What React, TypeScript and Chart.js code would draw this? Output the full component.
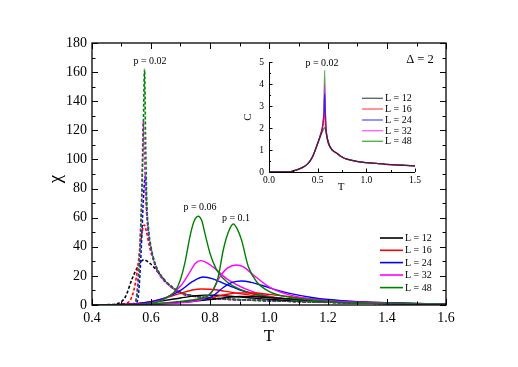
import React, { useEffect, useRef } from "react";
import { Chart, registerables } from "chart.js";

Chart.register(...registerables);

type P = [number, number][];

const L_LABELS = ["L = 12", "L = 16", "L = 24", "L = 32", "L = 48"];
const COLORS = ["#000000", "#ff0000", "#0000ff", "#ff00ff", "#008000"];
const INSET_COLORS = [
  "rgba(40,40,40,0.7)",
  "rgba(255,0,0,0.6)",
  "rgba(0,0,255,0.6)",
  "rgba(255,0,255,0.6)",
  "rgba(0,128,0,0.65)",
];

const X_TICKS = [0.4, 0.6, 0.8, 1.0, 1.2, 1.4, 1.6];
const Y_TICKS = [0, 20, 40, 60, 80, 100, 120, 140, 160, 180];
const INSET_X_TICKS = [0, 0.5, 1.0, 1.5];
const INSET_Y_TICKS = [0, 1, 2, 3, 4, 5];

// p = 0.02 (dashed)
const CHI_P002_L12: P = [[0.4, 0], [0.45, 0.2], [0.49, 1.2], [0.513, 5.5], [0.536, 18], [0.556, 26.5], [0.575, 31], [0.6, 28], [0.626, 22], [0.66, 14], [0.7, 8.5], [0.75, 6], [0.8, 4.8], [0.9, 3.6], [1.0, 3.0], [1.1, 2.4], [1.2, 1.9], [1.3, 1.5], [1.4, 1.1], [1.5, 0.8], [1.6, 0.6]];
const CHI_P002_L16: P = [[0.4, 0], [0.47, 0.1], [0.51, 1], [0.53, 3.4], [0.547, 15], [0.558, 31], [0.569, 49], [0.577, 55], [0.585, 50], [0.595, 40], [0.61, 30], [0.63, 21], [0.66, 14], [0.7, 8], [0.75, 5.8], [0.8, 4.6], [0.9, 3.5], [1.0, 2.9], [1.1, 2.3], [1.2, 1.8], [1.3, 1.4], [1.4, 1.0], [1.5, 0.8], [1.6, 0.6]];
const CHI_P002_L24: P = [[0.4, 0], [0.5, 0.1], [0.535, 0.5], [0.55, 1.5], [0.558, 8], [0.566, 35], [0.574, 72], [0.581, 89], [0.585, 68], [0.59, 52], [0.6, 39], [0.615, 27], [0.637, 18.5], [0.66, 14], [0.7, 8.5], [0.75, 6], [0.8, 4.6], [0.9, 3.6], [1.0, 2.9], [1.1, 2.4], [1.2, 1.9], [1.3, 1.4], [1.4, 1.0], [1.5, 0.8], [1.6, 0.6]];
const CHI_P002_L32: P = [[0.4, 0], [0.5, 0.1], [0.53, 0.5], [0.545, 1.5], [0.552, 8], [0.558, 26], [0.564, 49], [0.569, 80], [0.574, 126], [0.578, 100], [0.583, 70], [0.59, 52], [0.6, 39], [0.615, 27], [0.637, 18.5], [0.66, 14], [0.7, 8.5], [0.75, 6], [0.8, 4.7], [0.9, 3.6], [1.0, 3.0], [1.1, 2.4], [1.2, 1.9], [1.3, 1.5], [1.4, 1.1], [1.5, 0.8], [1.6, 0.6]];
const CHI_P002_L48: P = [[0.4, 0], [0.5, 0.1], [0.535, 0.5], [0.546, 1.5], [0.553, 7], [0.559, 22], [0.564, 46], [0.569, 74], [0.574, 122], [0.578, 162], [0.582, 110], [0.586, 70], [0.592, 52], [0.6, 40], [0.615, 28], [0.637, 19.5], [0.66, 14.5], [0.7, 8.8], [0.75, 6.2], [0.8, 4.9], [0.9, 3.7], [1.0, 3.0], [1.1, 2.4], [1.2, 1.9], [1.3, 1.5], [1.4, 1.1], [1.5, 0.8], [1.6, 0.6]];

// p = 0.06 (solid)
const CHI_P006_L12: P = [[0.4, 0], [0.5, 0.3], [0.55, 0.8], [0.6, 1.8], [0.65, 3.2], [0.7, 4.8], [0.75, 6.3], [0.78, 6.8], [0.82, 6.7], [0.87, 6.0], [0.93, 5.0], [1.0, 3.9], [1.1, 2.8], [1.2, 2.0], [1.3, 1.5], [1.4, 1.1], [1.5, 0.8], [1.6, 0.6]];
const CHI_P006_L16: P = [[0.4, 0], [0.5, 0.3], [0.55, 0.9], [0.6, 2.3], [0.65, 4.8], [0.7, 8], [0.74, 10.3], [0.77, 11], [0.8, 10.8], [0.85, 9.5], [0.9, 7.8], [1.0, 5.2], [1.1, 3.4], [1.2, 2.3], [1.3, 1.6], [1.4, 1.1], [1.5, 0.8], [1.6, 0.6]];
const CHI_P006_L24: P = [[0.4, 0], [0.5, 0.3], [0.55, 0.9], [0.6, 2.3], [0.65, 5], [0.7, 10], [0.74, 16], [0.777, 19.2], [0.81, 18], [0.85, 14.5], [0.9, 10.5], [0.95, 7.5], [1.0, 5.5], [1.1, 3.3], [1.2, 2.1], [1.3, 1.5], [1.4, 1.0], [1.5, 0.7], [1.6, 0.5]];
const CHI_P006_L32: P = [[0.4, 0], [0.55, 0.5], [0.6, 1.5], [0.65, 4.5], [0.7, 13], [0.73, 22], [0.75, 28.5], [0.768, 30.5], [0.79, 29], [0.811, 26], [0.857, 18], [0.924, 10.8], [1.0, 6], [1.1, 3.3], [1.2, 2], [1.3, 1.4], [1.4, 1], [1.5, 0.7], [1.6, 0.5]];
const CHI_P006_L48: P = [[0.4, 0], [0.55, 0.3], [0.6, 1], [0.626, 2.3], [0.66, 6], [0.682, 9.5], [0.699, 17], [0.716, 30], [0.732, 47], [0.745, 57], [0.76, 61], [0.772, 58], [0.783, 49], [0.8, 35.5], [0.823, 24], [0.857, 16], [0.924, 9.1], [1.037, 4.6], [1.1, 3.2], [1.2, 2], [1.3, 1.4], [1.4, 1], [1.5, 0.7], [1.6, 0.5]];

// p = 0.1 (solid)
const CHI_P01_L12: P = [[0.4, 0], [0.55, 0.3], [0.6, 0.6], [0.7, 1.8], [0.8, 3.8], [0.85, 5], [0.9, 5.8], [0.95, 5.7], [1.0, 5.1], [1.1, 3.8], [1.2, 2.7], [1.3, 1.9], [1.4, 1.3], [1.5, 0.9], [1.6, 0.7]];
const CHI_P01_L16: P = [[0.4, 0], [0.55, 0.3], [0.6, 0.7], [0.7, 2], [0.8, 5], [0.85, 7], [0.9, 8.3], [0.95, 8.2], [1.0, 7.3], [1.1, 5], [1.2, 3.3], [1.3, 2.2], [1.4, 1.5], [1.5, 1.0], [1.6, 0.7]];
const CHI_P01_L24: P = [[0.4, 0], [0.6, 0.6], [0.7, 1.8], [0.78, 4], [0.806, 5.7], [0.845, 12], [0.875, 15.5], [0.907, 16.5], [0.94, 15.5], [0.98, 13.2], [1.03, 10], [1.07, 8], [1.15, 5], [1.2, 3.8], [1.3, 2.3], [1.4, 1.5], [1.5, 1.0], [1.6, 0.7]];
const CHI_P01_L32: P = [[0.4, 0], [0.6, 0.5], [0.7, 1.5], [0.78, 4.5], [0.806, 9.1], [0.834, 19.5], [0.86, 25.5], [0.89, 27.5], [0.915, 26], [0.947, 20.6], [1.003, 12.1], [1.06, 7.5], [1.15, 4], [1.2, 3], [1.3, 1.9], [1.4, 1.3], [1.5, 0.9], [1.6, 0.6]];
const CHI_P01_L48: P = [[0.4, 0], [0.55, 0.2], [0.6, 0.8], [0.7, 2.5], [0.75, 3.8], [0.789, 5.7], [0.811, 10.3], [0.828, 19.4], [0.845, 37.8], [0.862, 50], [0.879, 55.6], [0.893, 52], [0.907, 44.6], [0.93, 26.3], [0.958, 16], [1.003, 9.1], [1.07, 5.3], [1.15, 3.3], [1.2, 2.5], [1.3, 1.6], [1.4, 1.1], [1.5, 0.8], [1.6, 0.6]];

// Inset: specific heat C, p = 0.02
const C_L12: P = [[0, 0], [0.2, 0], [0.25, 0.05], [0.3, 0.12], [0.35, 0.22], [0.4, 0.38], [0.45, 0.72], [0.5, 1.3], [0.53, 1.65], [0.55, 1.85], [0.57, 2.02], [0.585, 1.85], [0.6, 1.5], [0.62, 1.2], [0.65, 1.0], [0.7, 0.84], [0.75, 0.68], [0.8, 0.58], [0.9, 0.48], [1.0, 0.43], [1.1, 0.39], [1.2, 0.35], [1.3, 0.32], [1.4, 0.3], [1.5, 0.28]];
const C_L16: P = [[0, 0], [0.2, 0], [0.25, 0.05], [0.3, 0.12], [0.35, 0.22], [0.4, 0.38], [0.45, 0.72], [0.5, 1.3], [0.53, 1.7], [0.55, 2.05], [0.568, 2.62], [0.58, 2.1], [0.6, 1.5], [0.62, 1.2], [0.65, 1.0], [0.7, 0.84], [0.75, 0.68], [0.8, 0.58], [0.9, 0.48], [1.0, 0.43], [1.1, 0.39], [1.2, 0.35], [1.3, 0.32], [1.4, 0.3], [1.5, 0.28]];
const C_L24: P = [[0, 0], [0.2, 0], [0.25, 0.05], [0.3, 0.12], [0.35, 0.22], [0.4, 0.38], [0.45, 0.72], [0.5, 1.3], [0.53, 1.7], [0.55, 2.05], [0.563, 2.6], [0.572, 3.55], [0.58, 2.6], [0.59, 1.8], [0.6, 1.5], [0.62, 1.2], [0.65, 1.0], [0.7, 0.84], [0.75, 0.68], [0.8, 0.58], [0.9, 0.48], [1.0, 0.43], [1.1, 0.39], [1.2, 0.35], [1.3, 0.32], [1.4, 0.3], [1.5, 0.28]];
const C_L32: P = [[0, 0], [0.2, 0], [0.25, 0.05], [0.3, 0.12], [0.35, 0.22], [0.4, 0.38], [0.45, 0.72], [0.5, 1.3], [0.53, 1.7], [0.55, 2.05], [0.564, 2.7], [0.572, 4.0], [0.579, 2.7], [0.589, 1.8], [0.6, 1.5], [0.62, 1.2], [0.65, 1.0], [0.7, 0.84], [0.75, 0.68], [0.8, 0.58], [0.9, 0.48], [1.0, 0.43], [1.1, 0.39], [1.2, 0.35], [1.3, 0.32], [1.4, 0.3], [1.5, 0.28]];
const C_L48: P = [[0, 0], [0.2, 0], [0.25, 0.05], [0.3, 0.12], [0.35, 0.22], [0.4, 0.38], [0.45, 0.72], [0.5, 1.3], [0.53, 1.7], [0.55, 2.05], [0.565, 2.8], [0.572, 4.62], [0.578, 2.8], [0.588, 1.8], [0.6, 1.5], [0.62, 1.2], [0.65, 1.0], [0.7, 0.84], [0.75, 0.68], [0.8, 0.58], [0.9, 0.48], [1.0, 0.43], [1.1, 0.39], [1.2, 0.35], [1.3, 0.32], [1.4, 0.3], [1.5, 0.28]];

const P002 = [CHI_P002_L12, CHI_P002_L16, CHI_P002_L24, CHI_P002_L32, CHI_P002_L48];
const P006 = [CHI_P006_L12, CHI_P006_L16, CHI_P006_L24, CHI_P006_L32, CHI_P006_L48];
const P01 = [CHI_P01_L12, CHI_P01_L16, CHI_P01_L24, CHI_P01_L32, CHI_P01_L48];
const INSET = [C_L12, C_L16, C_L24, C_L32, C_L48];

const SERIF = '"Liberation Serif", "Times New Roman", serif';

const toXY = (arr: P) => arr.map(([x, y]) => ({ x, y }));

function drawTicks(ctx: any, a: any, xs: any, ys: any, xMaj: number[], xStep: number, yMaj: number[], yStep: number, majLen: number, minLen: number, sides: { top: boolean; right: boolean }) {
  ctx.beginPath();
  const xMin = xs.min, xMax = xs.max, yMin = ys.min, yMax = ys.max;
  const xMinor: number[] = [];
  for (let i = 0; i < xMaj.length - 1; i++) xMinor.push(xMaj[i] + xStep / 2);
  const yMinor: number[] = [];
  for (let i = 0; i < yMaj.length - 1; i++) yMinor.push(yMaj[i] + yStep / 2);
  const vx = (v: number, len: number) => {
    if (v < xMin - 1e-9 || v > xMax + 1e-9) return;
    const px = Math.round(xs.getPixelForValue(v)) + 0.5;
    ctx.moveTo(px, a.bottom);
    ctx.lineTo(px, a.bottom - len);
    if (sides.top) {
      ctx.moveTo(px, a.top);
      ctx.lineTo(px, a.top + len);
    }
  };
  const vy = (v: number, len: number) => {
    if (v < yMin - 1e-9 || v > yMax + 1e-9) return;
    const py = Math.round(ys.getPixelForValue(v)) + 0.5;
    ctx.moveTo(a.left, py);
    ctx.lineTo(a.left + len, py);
    if (sides.right) {
      ctx.moveTo(a.right, py);
      ctx.lineTo(a.right - len, py);
    }
  };
  xMaj.forEach((v) => vx(v, majLen));
  xMinor.forEach((v) => vx(v, minLen));
  yMaj.forEach((v) => vy(v, majLen));
  yMinor.forEach((v) => vy(v, minLen));
  ctx.stroke();
}

const mainDecor = {
  id: "mainDecor",
  afterDraw(chart: any) {
    const { ctx, chartArea: a, scales } = chart;
    const xs = scales.x, ys = scales.y;
    ctx.save();
    ctx.strokeStyle = "#000";
    ctx.lineWidth = 1.3;
    ctx.strokeRect(a.left, a.top, a.right - a.left, a.bottom - a.top);
    ctx.lineWidth = 1;
    drawTicks(ctx, a, xs, ys, X_TICKS, 0.2, Y_TICKS, 20, 6, 3.5, { top: true, right: true });

    ctx.fillStyle = "#000";
    ctx.textAlign = "center";
    ctx.textBaseline = "middle";
    ctx.font = `17px ${SERIF}`;
    ctx.fillText("T", (a.left + a.right) / 2, 337);
    ctx.save();
    ctx.translate(56, 179);
    ctx.rotate(-Math.PI / 2);
    ctx.font = `19px ${SERIF}`;
    ctx.fillText("\u03c7", 0, 0);
    ctx.restore();

    ctx.font = `10px ${SERIF}`;
    ctx.fillText("p = 0.02", 150, 61);
    ctx.fillText("p = 0.06", 200, 207);
    ctx.fillText("p = 0.1", 236, 218);
    ctx.font = `12.5px ${SERIF}`;
    ctx.fillText("\u0394 = 2", 420, 60);

    // legend
    const rows = [238, 250.3, 262.6, 275, 287.6];
    ctx.textAlign = "left";
    ctx.font = `10px ${SERIF}`;
    L_LABELS.forEach((lab, i) => {
      ctx.strokeStyle = COLORS[i];
      ctx.lineWidth = 1.6;
      ctx.beginPath();
      ctx.moveTo(380, rows[i]);
      ctx.lineTo(403, rows[i]);
      ctx.stroke();
      ctx.fillStyle = "#000";
      ctx.fillText(lab, 405, rows[i] + 0.5);
    });
    ctx.restore();
  },
};

const insetDecor = {
  id: "insetDecor",
  afterDraw(chart: any) {
    const { ctx, chartArea: a, scales } = chart;
    const xs = scales.x, ys = scales.y;
    ctx.save();
    ctx.strokeStyle = "#000";
    ctx.lineWidth = 1;
    ctx.beginPath();
    ctx.moveTo(a.left + 0.5, a.top);
    ctx.lineTo(a.left + 0.5, a.bottom + 0.5);
    ctx.lineTo(a.right, a.bottom + 0.5);
    ctx.stroke();
    drawTicks(ctx, a, xs, ys, INSET_X_TICKS, 0.5, INSET_Y_TICKS, 1, 3.5, 2, { top: false, right: false });

    ctx.fillStyle = "#000";
    ctx.textAlign = "center";
    ctx.textBaseline = "middle";
    ctx.font = `11px ${SERIF}`;
    ctx.fillText("T", 111, 147);
    ctx.save();
    ctx.translate(18, 77);
    ctx.rotate(-Math.PI / 2);
    ctx.fillText("C", 0, 0);
    ctx.restore();
    ctx.font = `10px ${SERIF}`;
    ctx.fillText("p = 0.02", 92, 23.5);

    const rows = [58.3, 69, 80, 90.7, 101.3];
    ctx.textAlign = "left";
    ctx.font = `10px ${SERIF}`;
    L_LABELS.forEach((lab, i) => {
      ctx.strokeStyle = INSET_COLORS[i];
      ctx.lineWidth = 1.4;
      ctx.beginPath();
      ctx.moveTo(132, rows[i]);
      ctx.lineTo(153, rows[i]);
      ctx.stroke();
      ctx.fillStyle = "#000";
      ctx.fillText(lab, 155, rows[i] + 0.5);
    });
    ctx.restore();
  },
};

export default function App() {
  const mainRef = useRef<HTMLCanvasElement>(null);
  const insetRef = useRef<HTMLCanvasElement>(null);

  useEffect(() => {
    const datasets: any[] = [];
    const groups: [P[], boolean][] = [[P002, true], [P006, false], [P01, false]];
    groups.forEach(([grp, dashed]) => {
      grp.forEach((arr, i) => {
        datasets.push({
          label: L_LABELS[i],
          data: toXY(arr),
          borderColor: COLORS[i],
          borderWidth: dashed ? 1.6 : 1.4,
          borderDash: dashed ? [3, 2] : [],
          pointRadius: 0,
          showLine: true,
          fill: false,
          cubicInterpolationMode: "monotone",
        });
      });
    });
    datasets.reverse();

    const main = new Chart(mainRef.current!, {
      type: "scatter",
      data: { datasets },
      plugins: [mainDecor],
      options: {
        responsive: false,
        animation: false,
        events: [],
        layout: { padding: { top: 43, right: 72, left: 0, bottom: 0 } },
        plugins: { legend: { display: false }, tooltip: { enabled: false } },
        scales: {
          x: {
            type: "linear",
            min: 0.4,
            max: 1.6,
            afterFit: (s: any) => { s.height = 62; },
            afterBuildTicks: (s: any) => { s.ticks = X_TICKS.map((v) => ({ value: v })); },
            grid: { display: false, drawTicks: false },
            border: { display: false },
            ticks: {
              padding: 5,
              color: "#000",
              font: { family: SERIF, size: 14 },
              callback: (v: any) => Number(v).toFixed(1),
            },
          },
          y: {
            type: "linear",
            min: 0,
            max: 180,
            afterFit: (s: any) => { s.width = 92; },
            afterBuildTicks: (s: any) => { s.ticks = Y_TICKS.map((v) => ({ value: v })); },
            grid: { display: false, drawTicks: false },
            border: { display: false },
            ticks: {
              padding: 5,
              color: "#000",
              font: { family: SERIF, size: 14 },
              callback: (v: any) => String(Math.round(Number(v))),
            },
          },
        },
      },
    } as any);

    const insetSets: any[] = INSET.map((arr, i) => ({
      label: L_LABELS[i],
      data: toXY(arr),
      borderColor: INSET_COLORS[i],
      borderWidth: 1.3,
      pointRadius: 0,
      showLine: true,
      fill: false,
      cubicInterpolationMode: "monotone",
    }));

    const inset = new Chart(insetRef.current!, {
      type: "scatter",
      data: { datasets: insetSets },
      plugins: [insetDecor],
      options: {
        responsive: false,
        animation: false,
        events: [],
        layout: { padding: { top: 22, right: 25, left: 0, bottom: 0 } },
        plugins: { legend: { display: false }, tooltip: { enabled: false } },
        scales: {
          x: {
            type: "linear",
            min: 0,
            max: 1.5,
            afterFit: (s: any) => { s.height = 28; },
            afterBuildTicks: (s: any) => { s.ticks = INSET_X_TICKS.map((v) => ({ value: v })); },
            grid: { display: false, drawTicks: false },
            border: { display: false },
            ticks: {
              padding: 3,
              color: "#000",
              font: { family: SERIF, size: 9.5 },
              callback: (v: any) => Number(v).toFixed(1),
            },
          },
          y: {
            type: "linear",
            min: 0,
            max: 5,
            afterFit: (s: any) => { s.width = 39; },
            afterBuildTicks: (s: any) => { s.ticks = INSET_Y_TICKS.map((v) => ({ value: v })); },
            grid: { display: false, drawTicks: false },
            border: { display: false },
            ticks: {
              padding: 5,
              color: "#000",
              font: { family: SERIF, size: 9.5 },
              callback: (v: any) => String(Math.round(Number(v))),
            },
          },
        },
      },
    } as any);

    return () => {
      main.destroy();
      inset.destroy();
    };
  }, []);

  return (
    <div style={{ position: "absolute", left: 0, top: 0, width: 518, height: 367, background: "#fff" }}>
      <canvas ref={mainRef} width={518} height={367} style={{ position: "absolute", left: 0, top: 0 }} />
      <canvas ref={insetRef} width={210} height={160} style={{ position: "absolute", left: 230, top: 40 }} />
    </div>
  );
}
